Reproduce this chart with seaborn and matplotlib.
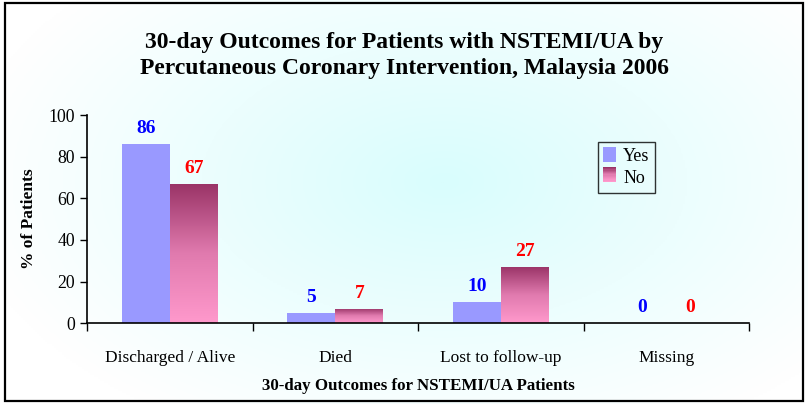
import seaborn as sns
import numpy as np
import pandas as pd
import matplotlib.pyplot as plt
from matplotlib.patches import Rectangle
from matplotlib.colors import LinearSegmentedColormap
from matplotlib.legend_handler import HandlerBase

categories = ["Discharged / Alive", "Died", "Lost to follow-up", "Missing"]
yes_vals = [86, 5, 10, 0]
no_vals = [67, 7, 27, 0]
groups = ["Yes", "No"]

df = pd.DataFrame({
    "outcome": categories * 2,
    "pci": ["Yes"] * len(categories) + ["No"] * len(categories),
    "pct": yes_vals + no_vals,
})

sns.set_style("white")
plt.rcParams['font.family'] = ['Liberation Serif', 'DejaVu Serif']
plt.rcParams.update({"text.color": "black", "axes.labelcolor": "black",
                     "xtick.color": "black", "ytick.color": "black"})

yes_color = "#9999FF"
no_cmap = LinearSegmentedColormap.from_list("no", ["#FF99CC", "#E07AAE", "#993366"])

fig = plt.figure(figsize=(8.08, 4.04), dpi=100)

# radial background
bg = fig.add_axes([0, 0, 1, 1], zorder=-5)
yy, xx = np.mgrid[0:1:200j, 0:1:400j]
r = np.sqrt(((xx - 0.55) / 0.6) ** 2 + ((yy - 0.55) / 0.7) ** 2)
r = np.clip(r, 0, 1)
bg_cmap = LinearSegmentedColormap.from_list("bg", ["#D9FDFD", "#FFFFFF"])
bg.imshow(r, cmap=bg_cmap, extent=[0, 1, 0, 1], aspect="auto", origin="lower")
bg.axis("off")
fig.patches.append(Rectangle((0.006, 0.008), 0.988, 0.985, transform=fig.transFigure,
                             fill=False, edgecolor="black", lw=1.6))

ax = fig.add_axes([0.108, 0.2, 0.819, 0.515])
ax.set_facecolor("none")
sns.barplot(data=df, x="outcome", y="pct", hue="pci", hue_order=groups,
            palette={"Yes": yes_color, "No": "#CC6699"}, width=0.58, gap=0,
            saturation=1, ax=ax, legend=False, edgecolor="none", linewidth=0)

ax.set_xlim(-0.5, 3.5)
ax.set_ylim(0, 100)

# gradient fill for "No" bars
grad = np.linspace(0, 1, 256).reshape(-1, 1)
for bar in ax.containers[1]:
    x, w, h = bar.get_x(), bar.get_width(), bar.get_height()
    if h <= 0:
        continue
    im = ax.imshow(grad, cmap=no_cmap, extent=[x, x + w, 0, h], origin="lower",
                   aspect="auto", zorder=bar.get_zorder() + 0.1)
    im.set_clip_path(bar)
ax.set_xlim(-0.5, 3.5)
ax.set_ylim(0, 100)
ax.set_aspect("auto")

# value labels
for cont, color in zip(ax.containers, ["#0000FF", "#FF0000"]):
    for bar in cont:
        ax.annotate(f"{bar.get_height():.0f}",
                    (bar.get_x() + bar.get_width() / 2, bar.get_height()),
                    xytext=(0, 5), textcoords="offset points", ha="center", va="bottom",
                    color=color, fontsize=14, fontweight="bold")

sns.despine(ax=ax, top=True, right=True)
for s in ["left", "bottom"]:
    ax.spines[s].set_color("black")
    ax.spines[s].set_linewidth(1.2)

ax.set_yticks(range(0, 101, 20))
ax.tick_params(axis="y", which="major", direction="out", length=5, width=1, labelsize=12.8, pad=4, left=True)
ax.set_xticks(np.arange(-0.5, 4, 1))
ax.set_xticklabels([])
ax.tick_params(axis="x", which="major", direction="out", length=6, width=1, bottom=True)
ax.set_xticks(range(len(categories)), minor=True)
ax.set_xticklabels(categories, minor=True)
ax.tick_params(axis="x", which="minor", length=0, labelsize=12.5, pad=19)

ax.set_xlabel("30-day Outcomes for NSTEMI/UA Patients", fontsize=12.2, fontweight="bold", labelpad=9)
ax.set_ylabel("% of Patients", fontsize=12.5, fontweight="bold", labelpad=8)

fig.text(0.5, 0.862, "30-day Outcomes for Patients with NSTEMI/UA by\nPercutaneous Coronary Intervention, Malaysia 2006",
         ha="center", va="center", fontsize=17, fontweight="bold", linespacing=1.3)


class GradHandler(HandlerBase):
    def create_artists(self, legend, orig_handle, xd, yd, width, height, fontsize, trans):
        arts = []
        n = 12
        for i in range(n):
            c = no_cmap(1 - i / (n - 1))
            arts.append(Rectangle((xd, yd + height - (i + 1) * height / n), width, height / n,
                                  facecolor=c, edgecolor="none", transform=trans))
        return arts


yes_h = Rectangle((0, 0), 1, 1, facecolor=yes_color, edgecolor="none")
no_h = Rectangle((0, 0), 1, 1)
leg = ax.legend([yes_h, no_h], groups, handler_map={no_h: GradHandler()},
                loc="upper left", bbox_to_anchor=(0.758, 0.915), frameon=True, fancybox=False,
                fontsize=13, handlelength=0.7, handleheight=0.9, handletextpad=0.4,
                borderpad=0.3, labelspacing=0.25)
leg.get_frame().set_edgecolor("black")
leg.get_frame().set_linewidth(1)
leg.get_frame().set_facecolor("none")

fig.savefig("out.png", dpi=100)
